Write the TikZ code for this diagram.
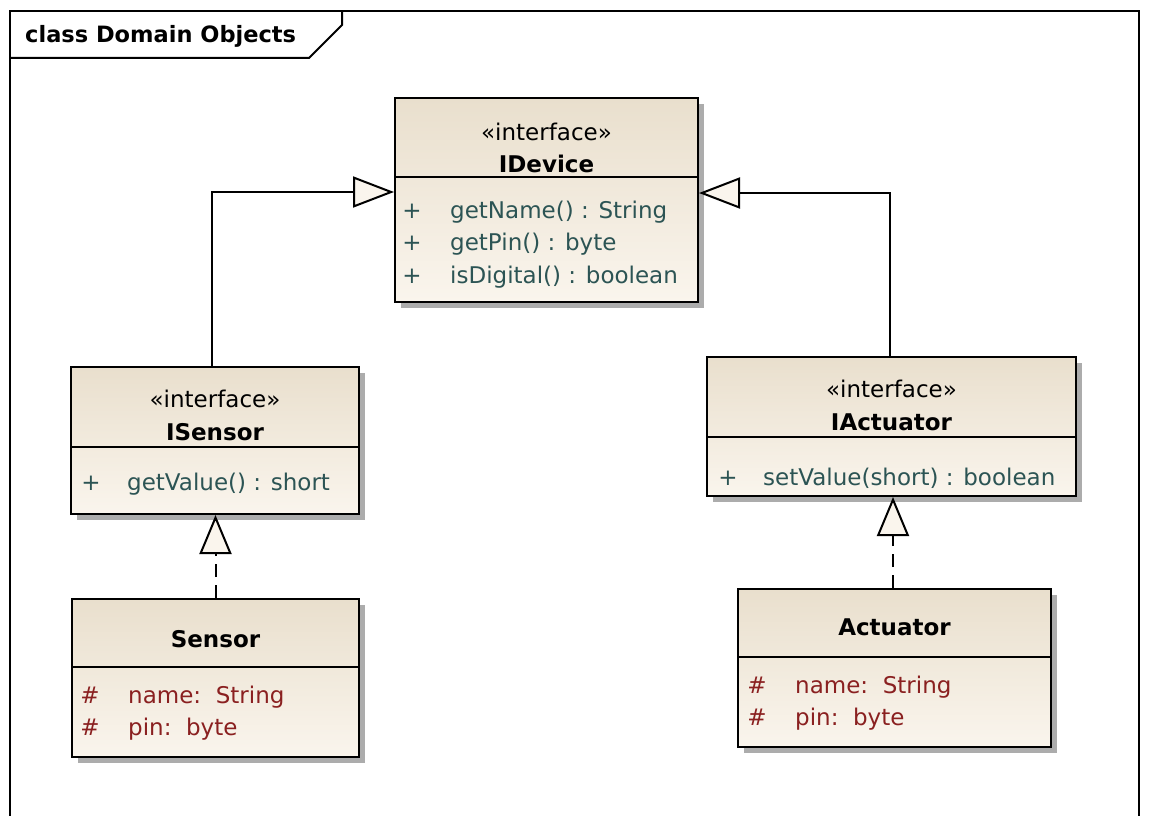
\documentclass[tikz,border=0pt]{standalone}
\usepackage{fontspec}
\setmainfont{DejaVu Sans}
\usetikzlibrary{arrows.meta,shadows,calc}

\definecolor{classtop}{RGB}{233,223,205}
\definecolor{classbot}{RGB}{250,245,237}
\definecolor{opcol}{RGB}{44,84,84}
\definecolor{attrcol}{RGB}{138,32,32}
\definecolor{shadowgray}{RGB}{172,172,172}

\tikzset{
  classbox/.style={draw=black, line width=2pt, inner sep=0pt,
    top color=classtop, bottom color=classbot,
    drop shadow={shadow xshift=6pt, shadow yshift=-6pt, fill=shadowgray, opacity=1}},
  sepline/.style={draw=black, line width=2pt},
  txt/.style={inner sep=0pt, font=\fontsize{23}{27}\selectfont},
  stereo/.style={txt, anchor=base},
  cname/.style={txt, anchor=base, font=\fontsize{23}{27}\selectfont\bfseries},
  opsym/.style={txt, anchor=base, text=opcol},
  optxt/.style={txt, anchor=base west, text=opcol},
  atsym/.style={txt, anchor=base, text=attrcol},
  attxt/.style={txt, anchor=base west, text=attrcol},
  gen/.style={draw=black, line width=2pt,
    -{Triangle[length=41pt, width=31pt, fill=classbot, line width=2pt]}},
  realize/.style={draw=black, line width=2pt, dash pattern=on 13pt off 8pt,
    -{Triangle[length=39pt, width=32pt, fill=classbot, line width=2pt]}},
  framebox/.style={draw=black, line width=2pt},
}

\begin{document}
\begin{tikzpicture}[x=1pt, y=-1pt]
  % canvas
  \fill[white] (0,0) rectangle (1149,816);
  \useasboundingbox (0,0) rectangle (1149,816);

  % diagram frame with its name tab
  \draw[framebox] (10,830) -- (10,11) -- (1139,11) -- (1139,830);
  \draw[framebox] (10,58) -- (309,58) -- (342,25) -- (342,11);
  \node[txt, anchor=base west, font=\fontsize{22.5}{26}\selectfont\bfseries] (frametitle) at (25,43) {class Domain Objects};

  % IDevice
  \node[classbox, minimum width=303pt, minimum height=204pt] (idevice) at (546.5,200) {};
  \draw[sepline] ($(idevice.north west)+(0,80)$) -- ($(idevice.north east)+(0,80)$);
  \node[stereo] (idevice-st) at (546.5,140) {«interface»};
  \node[cname] (idevice-nm) at (546.5,172) {IDevice};
  \node[opsym] (idevice-p1) at (412,218) {+};
  \node[optxt] (idevice-o1) at (450,218) {getName() : String};
  \node[opsym] (idevice-p2) at (412,250) {+};
  \node[optxt] (idevice-o2) at (450,250) {getPin() : byte};
  \node[opsym] (idevice-p3) at (412,283) {+};
  \node[optxt] (idevice-o3) at (450,283) {isDigital() : boolean};

  % ISensor
  \node[classbox, minimum width=288pt, minimum height=147pt] (isensor) at (215,440.5) {};
  \draw[sepline] ($(isensor.north west)+(0,81)$) -- ($(isensor.north east)+(0,81)$);
  \node[stereo] (isensor-st) at (215,407) {«interface»};
  \node[cname] (isensor-nm) at (215,440) {ISensor};
  \node[opsym] (isensor-p1) at (91,490) {+};
  \node[optxt] (isensor-o1) at (127,490) {getValue() : short};

  % Sensor
  \node[classbox, minimum width=287pt, minimum height=158pt] (sensor) at (215.5,678) {};
  \draw[sepline] ($(sensor.north west)+(0,69)$) -- ($(sensor.north east)+(0,69)$);
  \node[cname] (sensor-nm) at (215.5,647) {Sensor};
  \node[atsym] (sensor-h1) at (90,703) {\#};
  \node[attxt] (sensor-a1) at (128,703) {name:~~String};
  \node[atsym] (sensor-h2) at (90,735) {\#};
  \node[attxt] (sensor-a2) at (128,735) {pin:~~byte};

  % IActuator
  \node[classbox, minimum width=369pt, minimum height=139pt] (iactuator) at (891.5,426.5) {};
  \draw[sepline] ($(iactuator.north west)+(0,81)$) -- ($(iactuator.north east)+(0,81)$);
  \node[stereo] (iactuator-st) at (891.5,397) {«interface»};
  \node[cname] (iactuator-nm) at (891.5,430) {IActuator};
  \node[opsym] (iactuator-p1) at (728,485) {+};
  \node[optxt] (iactuator-o1) at (763,485) {setValue(short) : boolean};

  % Actuator
  \node[classbox, minimum width=313pt, minimum height=158pt] (actuator) at (894.5,668) {};
  \draw[sepline] ($(actuator.north west)+(0,69)$) -- ($(actuator.north east)+(0,69)$);
  \node[cname] (actuator-nm) at (894.5,635) {Actuator};
  \node[atsym] (actuator-h1) at (757,693) {\#};
  \node[attxt] (actuator-a1) at (795,693) {name:~~String};
  \node[atsym] (actuator-h2) at (757,725) {\#};
  \node[attxt] (actuator-a2) at (795,725) {pin:~~byte};

  % generalizations
  \draw[gen] ([xshift=-3pt]isensor.north) |- ([yshift=8pt]idevice.west);
  \draw[gen] ([xshift=-1.5pt]iactuator.north) |- ([yshift=7pt]idevice.east);

  % realizations
  \draw[realize] (sensor.north) -- (sensor.north |- isensor.south);
  \draw[realize] ([xshift=-1.5pt]actuator.north) -- ([xshift=-1.5pt]actuator.north |- iactuator.south);
\end{tikzpicture}
\end{document}
